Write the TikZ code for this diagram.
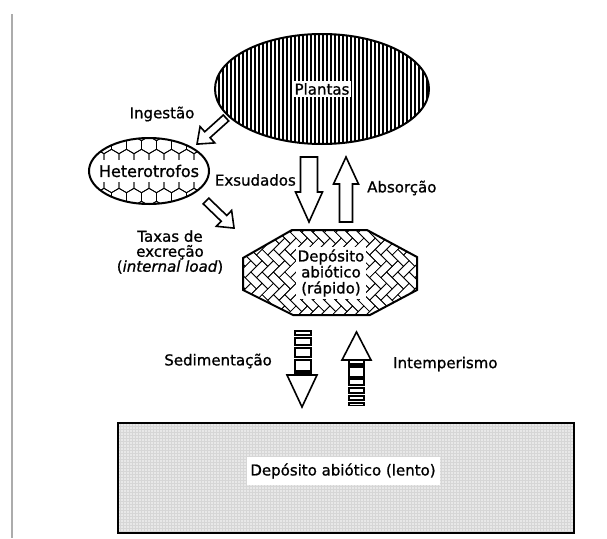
\documentclass[tikz,border=0pt]{standalone}
\usepackage{fontspec}
\setmainfont{DejaVu Sans}
\newfontfamily\lblfont{DejaVu Sans}[FakeBold=1.0]
\usetikzlibrary{calc}
\newcommand\myblockarrow[6]{% tail, canvas angle, length, shaft, head width, head length
  \draw[harrow, shift={(#1)}, rotate=#2] (0,-#4/2) -- ({#3-#6},-#4/2) -- ({#3-#6},-#5/2) -- (#3,0) -- ({#3-#6},#5/2) -- ({#3-#6},#4/2) -- (0,#4/2) -- cycle;}
\begin{document}
\begin{tikzpicture}[x=1pt,y=-1pt,
  lbl/.style={font=\lblfont\fontsize{15}{16}\selectfont, inner sep=1pt, text=black},
  harrow/.style={draw=black, line width=1.6pt, fill=white, line join=miter},
  outline/.style={draw=black, line width=2pt, line join=miter},
  boxline/.style={draw=black, line width=1.4pt, fill=white}]
\useasboundingbox (0,0) rectangle (607,538);
\fill[white] (0,0) rectangle (607,538);
\draw[gray!65, line width=1.5pt] (12,14) -- (12,538);

% ---------- Plantas ----------
\coordinate (pc) at (322,89);
\begin{scope}
  \clip (pc) ellipse [x radius=107, y radius=55];
  \fill[white] (pc) ellipse [x radius=107, y radius=55];
  \foreach \i in {0,...,55} \draw[line width=1.4pt] ({215+\i*4},30) -- ({215+\i*4},150);
\end{scope}
\draw[outline] (pc) ellipse [x radius=107, y radius=55];
\node[lbl, fill=white, inner sep=2pt] (plantas) at (pc) {Plantas};

% ---------- Heterotrofos ----------
\coordinate (hc) at (149,171);
\begin{scope}
  \clip (hc) ellipse [x radius=60, y radius=33];
  \fill[white] (hc) ellipse [x radius=60, y radius=33];
  \foreach \r in {-3,...,3} {
    \foreach \c in {-5,...,5} {
      \pgfmathsetmacro\cx{149+\c*15+abs(mod(\r,2))*7.5}
      \pgfmathsetmacro\cy{171+\r*13}
      \draw[line width=0.8pt] (\cx,\cy) +(90:8.66) -- +(150:8.66) -- +(210:8.66) -- +(270:8.66) -- +(330:8.66) -- +(30:8.66) -- cycle;
    }
  }
  \fill[white] (80,160) rectangle (220,182);
\end{scope}
\draw[outline] (hc) ellipse [x radius=60, y radius=33];
\node[lbl, font=\lblfont\fontsize{16}{17}\selectfont] (het) at (hc) {Heterotrofos};

% ---------- Deposito rapido ----------
\coordinate (o1) at (292,230);
\coordinate (o2) at (367,230);
\coordinate (o3) at (417,257);
\coordinate (o4) at (417,290);
\coordinate (o5) at (370,315);
\coordinate (o6) at (293,315);
\coordinate (o7) at (243,290);
\coordinate (o8) at (243,258);
\begin{scope}
  \clip (o1) -- (o2) -- (o3) -- (o4) -- (o5) -- (o6) -- (o7) -- (o8) -- cycle;
  \fill[white] (230,220) rectangle (430,325);
  \begin{scope}[shift={(330,272)}, rotate=45, scale=8]
    \foreach \m in {-6,...,6} {
      \foreach \n in {-14,...,14} {
        \pgfmathsetmacro\hx{\n+2*\m}
        \pgfmathsetmacro\hy{\n-2*\m}
        \draw[line width=0.65pt] (\hx,\hy) rectangle ++(2,1);
        \draw[line width=0.65pt] (\hx+2,\hy-1) rectangle ++(1,2);
      }
    }
  \end{scope}
\end{scope}
\draw[outline] (o1) -- (o2) -- (o3) -- (o4) -- (o5) -- (o6) -- (o7) -- (o8) -- cycle;
\node[lbl, fill=white, align=center, inner sep=2pt] (rap) at (331,273) {Depósito\\abiótico\\(rápido)};

% ---------- Deposito lento ----------
\coordinate (l1) at (118,423);
\coordinate (l2) at (574,533);
\fill[black!9] (l1) rectangle (l2);
\draw[black!16, line width=0.3pt] (l1) grid[step=3pt] (l2);
\draw[line width=1.8pt] (l1) rectangle (l2);
\node[lbl, fill=white, minimum width=193pt, minimum height=28pt] (lento) at (343,471) {Depósito abiótico (lento)};

% ---------- hollow arrows ----------
\coordinate (exsT) at (309,157);
\myblockarrow{exsT}{-90}{65}{17}{27}{30}
\coordinate (absT) at (346,222);
\myblockarrow{absT}{90}{65}{13}{25}{27}
\coordinate (ingT) at (226,118);
\myblockarrow{ingT}{-138}{39}{8}{22}{14}
\coordinate (excT) at (206,201);
\myblockarrow{excT}{-44}{39}{8}{22}{14}

% ---------- Sedimentacao (down) ----------
\draw[boxline] (295,331) rectangle (311,335);
\draw[boxline] (295,338) rectangle (311,345);
\draw[boxline] (295,348) rectangle (311,357);
\draw[boxline] (295,360) rectangle (311,371);
\fill[black] (294,370) rectangle (312,375);
\draw[harrow] (287,375) -- (317,375) -- (302,407) -- cycle;

% ---------- Intemperismo (up) ----------
\draw[harrow] (342,360) -- (371,360) -- (356.5,332) -- cycle;
\draw[boxline] (349,360) rectangle (364,364);
\fill[black] (348,363) rectangle (365,367);
\draw[boxline] (349,367) rectangle (364,377);
\draw[boxline] (349,379) rectangle (364,385);
\draw[boxline] (349,388) rectangle (364,393);
\draw[boxline] (349,396) rectangle (364,400);
\draw[boxline] (349,403) rectangle (364,405.5);

% ---------- labels ----------
\node[lbl] (ing) at (162,114) {Ingestão};
\node[lbl, anchor=east] (exs) at (297,180) {Exsudados};
\node[lbl, anchor=west] (abs) at (366,188) {Absorção};
\node[lbl, align=center, font=\lblfont\fontsize{15}{15}\selectfont] (tax) at (170,252) {Taxas de\\excreção\\(\textit{internal load})};
\node[lbl, anchor=east] (sed) at (273,361) {Sedimentação};
\node[lbl, anchor=west] (int) at (392,364) {Intemperismo};
\end{tikzpicture}
\end{document}
